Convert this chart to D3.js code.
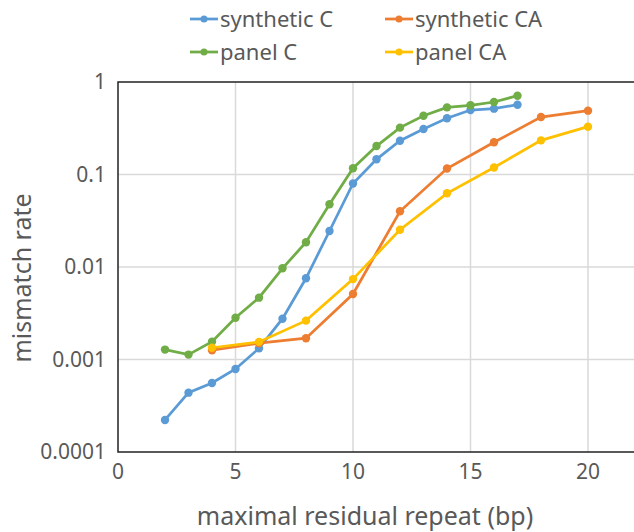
<!DOCTYPE html>
<html>
<head>
<meta charset="UTF-8">
<script src="https://d3js.org/d3.v7.min.js"></script>
<style>
  body { margin: 0; background: #fff; }
  text { font-family: "Noto Sans", sans-serif; fill: #595959; }
  .grid line { stroke: #d9d9d9; stroke-width: 1.5px; }
  .frame { stroke: #222; stroke-width: 1.5px; fill: none; }
</style>
</head>
<body>
<svg id="chart" width="634" height="532"></svg>
<script>
// values
const seriesNames = ["synthetic C", "synthetic CA", "panel C", "panel CA"];
const seriesColors = ["#5b9bd5", "#ed7d31", "#70ad47", "#ffc000"];

const xC = [2, 3, 4, 5, 6, 7, 8, 9, 10, 11, 12, 13, 14, 15, 16, 17];
const xCA = [4, 6, 8, 10, 12, 14, 16, 18, 20];

const syntheticC = [0.000222, 0.000438, 0.000557, 0.00079, 0.00132, 0.00276, 0.00755, 0.0245,
                    0.080, 0.146, 0.232, 0.31, 0.405, 0.498, 0.515, 0.568];
const panelC = [0.00128, 0.00113, 0.00156, 0.00283, 0.00466, 0.00968, 0.0185, 0.0476,
                0.117, 0.203, 0.321, 0.432, 0.532, 0.56, 0.608, 0.711];
const syntheticCA = [0.00126, 0.0015, 0.0017, 0.0051, 0.040, 0.116, 0.223, 0.418, 0.49];
const panelCA = [0.00134, 0.00155, 0.00263, 0.0074, 0.0253, 0.0626, 0.119, 0.234, 0.329];

const xTicks = [0, 5, 10, 15, 20];
const yTicks = [0.0001, 0.001, 0.01, 0.1, 1];
const yTickLabels = ["0.0001", "0.001", "0.01", "0.1", "1"];

const svg = d3.select("svg#chart");
const margin = {top: 82, right: -1, bottom: 80, left: 118};
const width = +svg.attr("width");
const height = +svg.attr("height");

const x = d3.scaleLinear().domain([0, 22]).range([margin.left, width - margin.right]);
const y = d3.scaleLog().domain([0.0001, 1]).range([height - margin.bottom, margin.top]);

// gridlines
const grid = svg.append("g").attr("class", "grid");
grid.selectAll("line.v")
    .data(xTicks.slice(1))
    .enter()
    .append("line")
    .attr("x1", d => x(d)).attr("x2", d => x(d))
    .attr("y1", y(1)).attr("y2", y(0.0001));
grid.selectAll("line.h")
    .data(yTicks.slice(1, -1))
    .enter()
    .append("line")
    .attr("x1", x(0)).attr("x2", x(22))
    .attr("y1", d => y(d)).attr("y2", d => y(d));

// frame: left, top, bottom
svg.append("path")
    .attr("class", "frame")
    .attr("d", `M${x(22)},${y(1)}H${x(0)}V${y(0.0001)}H${x(22)}`);

// tick labels
svg.append("g").selectAll("text")
    .data(xTicks)
    .enter()
    .append("text")
    .attr("x", d => x(d))
    .attr("y", y(0.0001) + 27)
    .attr("text-anchor", "middle")
    .style("font-size", "21px")
    .text(d => d);

svg.append("g").selectAll("text")
    .data(yTicks)
    .enter()
    .append("text")
    .attr("x", x(0) - 12)
    .attr("y", d => y(d) + 7)
    .attr("text-anchor", "end")
    .style("font-size", "21px")
    .text((d, i) => yTickLabels[i]);

// axis titles
svg.append("text")
    .attr("x", 365)
    .attr("y", 525)
    .attr("text-anchor", "middle")
    .style("font-size", "25px")
    .text("maximal residual repeat (bp)");

svg.append("text")
    .attr("transform", "translate(31,278) rotate(-90)")
    .attr("text-anchor", "middle")
    .style("font-size", "25px")
    .text("mismatch rate");

// series
const series = [
    {name: seriesNames[0], color: seriesColors[0], xs: xC, ys: syntheticC},
    {name: seriesNames[1], color: seriesColors[1], xs: xCA, ys: syntheticCA},
    {name: seriesNames[2], color: seriesColors[2], xs: xC, ys: panelC},
    {name: seriesNames[3], color: seriesColors[3], xs: xCA, ys: panelCA}
];

const line = d3.line().x(d => x(d[0])).y(d => y(d[1]));

// draw order: later on top
const drawOrder = [0, 2, 1, 3];
drawOrder.forEach(i => {
    const s = series[i];
    const pts = s.xs.map((v, j) => [v, s.ys[j]]);
    const g = svg.append("g");
    g.append("path")
        .datum(pts)
        .attr("fill", "none")
        .attr("stroke", s.color)
        .attr("stroke-width", 2.75)
        .attr("d", line);
    g.selectAll("circle")
        .data(pts)
        .enter()
        .append("circle")
        .attr("cx", d => x(d[0]))
        .attr("cy", d => y(d[1]))
        .attr("r", 4.2)
        .attr("fill", s.color);
});

// legend
const legendPos = [[190, 19], [385, 19], [190, 52], [385, 52]];
series.forEach((s, i) => {
    const [lx, ly] = legendPos[i];
    const g = svg.append("g").attr("transform", `translate(${lx},${ly})`);
    g.append("line")
        .attr("x1", 0).attr("x2", 28)
        .attr("stroke", s.color)
        .attr("stroke-width", 2.75);
    g.append("circle").attr("cx", 14).attr("r", 3.5).attr("fill", s.color);
    g.append("text")
        .attr("x", 30)
        .attr("y", 8)
        .style("font-size", "22px")
        .text(s.name);
});
</script>
</body>
</html>
